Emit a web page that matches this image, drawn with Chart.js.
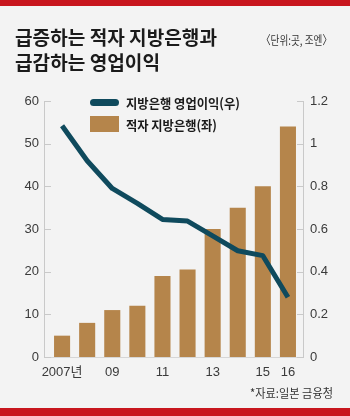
<!DOCTYPE html>
<html><head><meta charset="utf-8">
<script src="https://cdn.jsdelivr.net/npm/chart.js@4"></script>
<style>
html,body{margin:0;padding:0;}
body{width:350px;height:416px;background:#f3f3f3;position:relative;overflow:hidden;font-family:"Noto Sans CJK KR",sans-serif;}
.redTop{position:absolute;left:0;top:0;width:350px;height:6px;background:#c8161e;}
.redBot{position:absolute;left:0;top:408px;width:350px;height:8px;background:#c8161e;}
#c{position:absolute;left:0;top:0;}
.t{position:absolute;white-space:nowrap;transform-origin:0 50%;}
.title{font-size:19px;line-height:19px;font-weight:700;color:#1b1b1b;left:15px;}
.small{font-size:12px;line-height:12px;color:#333;}
.leg{font-size:13px;line-height:13px;color:#1a1a1a;font-weight:700;left:126px;}
.sw{position:absolute;}
</style></head>
<body>
<div class="redTop"></div>
<canvas id="c" width="350" height="416"></canvas>
<div class="t title" style="top:26.5px" data-w="202">급증하는 적자 지방은행과</div>
<div class="t title" style="top:51.5px" data-w="145">급감하는 영업이익</div>
<div class="t small" style="left:261px;top:34px" data-w="71">〈단위:곳, 조엔〉</div>
<div class="sw" style="left:90px;top:99px;width:29px;height:7px;border-radius:4px;background:#0f4a5d;"></div>
<div class="t leg" style="top:96px" data-w="114">지방은행 영업이익(우)</div>
<div class="sw" style="left:90px;top:116px;width:29px;height:16px;background:#b5854b;"></div>
<div class="t leg" style="top:117.5px" data-w="91">적자 지방은행(좌)</div>
<div class="t small" style="left:250px;top:387px" data-w="83">*자료:일본 금융청</div>
<div class="redBot"></div>
<script>
const years = ['2007','2008','2009','2010','2011','2012','2013','2014','2015','2016'];
const xTickLabels = ['2007년','','09','','11','','13','','15','16'];
const deficitBanks = [5, 8, 11, 12, 19, 20.5, 30, 35, 40, 54];
const operatingProfit = [1.084, 0.92, 0.79, 0.72, 0.645, 0.637, 0.568, 0.498, 0.475, 0.28];
const leftTicks = [0, 10, 20, 30, 40, 50, 60];
const rightTicks = [0, 0.2, 0.4, 0.6, 0.8, 1, 1.2];

const BAR = '#b5854b', LINE = '#0f4a5d', AXIS = '#c9c9c9', TICK = '#3a3a3a';
const tickFont = {family: "'Liberation Sans','Noto Sans CJK KR',sans-serif", size: 13};

const innerTicks = {
  id: 'innerTicks',
  afterDatasetsDraw(chart) {
    const {ctx, chartArea: a, scales} = chart;
    ctx.save();
    ctx.strokeStyle = AXIS; ctx.lineWidth = 1;
    scales.y.ticks.forEach(t => {
      const py = Math.round(scales.y.getPixelForValue(t.value)) + 0.5;
      ctx.beginPath(); ctx.moveTo(a.left, py); ctx.lineTo(a.left + 7, py); ctx.stroke();
    });
    scales.y1.ticks.forEach(t => {
      const py = Math.round(scales.y1.getPixelForValue(t.value)) + 0.5;
      ctx.beginPath(); ctx.moveTo(a.right - 6, py); ctx.lineTo(a.right, py); ctx.stroke();
    });
    ctx.restore();
  }
};

new Chart(document.getElementById('c'), {
  type: 'bar',
  data: {
    datasets: [
      {
        type: 'line', label: '지방은행 영업이익(우)', yAxisID: 'y1', order: 0,
        data: operatingProfit.map((v, i) => ({x: i, y: v})),
        borderColor: LINE, borderWidth: 5, pointRadius: 0, tension: 0,
        borderCapStyle: 'butt', borderJoinStyle: 'round'
      },
      {
        type: 'bar', label: '적자 지방은행(좌)', yAxisID: 'y', order: 1,
        data: deficitBanks.map((v, i) => ({x: i, y: v})),
        backgroundColor: BAR, borderWidth: 0,
        barPercentage: 0.64, categoryPercentage: 1
      }
    ]
  },
  options: {
    responsive: false, animation: false, devicePixelRatio: 1,
    layout: {padding: {top: 101, left: 0, right: 0, bottom: 0}},
    plugins: {legend: {display: false}, tooltip: {enabled: false}},
    scales: {
      x: {
        type: 'linear', min: -0.72, max: 9.6, offset: false,
        grid: {display: false, drawTicks: false, offset: false},
        border: {display: true, color: '#d6d6d6', width: 1},
        afterBuildTicks: s => { s.ticks = xTickLabels.map((l, i) => l ? {value: i} : null).filter(Boolean); },
        afterFit: s => { s.height = 59; },
        ticks: {autoSkip: false, maxRotation: 0, padding: 8, color: TICK, font: tickFont,
          callback: v => xTickLabels[v]}
      },
      y: {
        position: 'left', min: 0, max: 60,
        grid: {display: false, drawTicks: false},
        border: {display: true, color: AXIS, width: 1},
        afterBuildTicks: s => { s.ticks = leftTicks.map(v => ({value: v})); },
        afterFit: s => { s.width = 44; },
        ticks: {padding: 5, color: TICK, font: tickFont, callback: v => String(v)}
      },
      y1: {
        position: 'right', min: 0, max: 1.2,
        grid: {display: false, drawTicks: false},
        border: {display: true, color: AXIS, width: 1},
        afterBuildTicks: s => { s.ticks = rightTicks.map(v => ({value: v})); },
        afterFit: s => { s.width = 47; },
        ticks: {padding: 7, color: TICK, font: tickFont, callback: v => String(Math.round(v * 10) / 10)}
      }
    }
  },
  plugins: [innerTicks]
});

function fit() {
  document.querySelectorAll('[data-w]').forEach(el => {
    el.style.transform = 'none';
    const w = el.getBoundingClientRect().width;
    if (w > 0) el.style.transform = 'scaleX(' + (parseFloat(el.dataset.w) / w) + ')';
  });
}
fit();
if (document.fonts && document.fonts.ready) document.fonts.ready.then(fit);
</script>
</body></html>
